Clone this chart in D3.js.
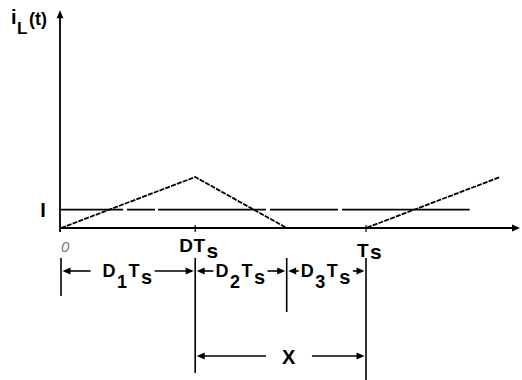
<!DOCTYPE html>
<html>
<head>
<meta charset="utf-8">
<script src="https://cdn.jsdelivr.net/npm/d3@7/dist/d3.min.js"></script>
<style>
  html, body { margin: 0; padding: 0; background: #fff; }
  svg { display: block; }
  text { font-family: "Liberation Sans", Arial, sans-serif; font-weight: bold; fill: #000; }
</style>
</head>
<body>
<svg id="chart" width="522" height="380"></svg>
<script>
// Inductor current waveform, time in units of Ts, current normalised to peak
const waveT = [0, 0.44, 0.74, 1.0, 1.44];
const waveI = [0, 1, 0, 0, 1];
const avgCurrent = 0.36;          // dc level I
const tickT = [0.44, 1.0];        // DTs and Ts on the time axis
const tickMain = ["DT", "T"];
const tickSub = ["s", "s"];
// sub-interval boundaries D1Ts, D2Ts, D3Ts
const intervalStart = [0, 0.44, 0.74];
const intervalEnd = [0.44, 0.74, 1.0];
const intervalSub = ["1", "2", "3"];
// span X from DTs to Ts
const spanX = [0.44, 1.0];
const axisEndT = 1.505, dcEndT = 1.34, axisTopI = 4.27;

const svg = d3.select("#chart");
const x = d3.scaleLinear().domain([0, 1]).range([61, 366]);
const y = d3.scaleLinear().domain([0, 1]).range([228, 177]);

function arrowHead(g, tipX, tipY, dir) {
  // dir: 'l','r','u'
  const L = 8, W = 3.4;
  let pts;
  if (dir === "r") pts = [[tipX, tipY], [tipX - L, tipY - W], [tipX - L, tipY + W]];
  else if (dir === "l") pts = [[tipX, tipY], [tipX + L, tipY - W], [tipX + L, tipY + W]];
  else pts = [[tipX, tipY], [tipX - W, tipY + L], [tipX + W, tipY + L]];
  g.append("path").attr("d", "M" + pts.join("L") + "Z").attr("fill", "#000");
}

const axes = svg.append("g");
// time axis
axes.append("line").attr("x1", x(0) - 1).attr("x2", x(axisEndT) - 4)
  .attr("y1", y(0)).attr("y2", y(0)).attr("stroke", "#000").attr("stroke-width", 1.8);
arrowHead(axes, x(axisEndT), y(0), "r");
// current axis
axes.append("line").attr("x1", x(0) - 1).attr("x2", x(0) - 1)
  .attr("y1", y(0) + 4).attr("y2", y(axisTopI) + 4).attr("stroke", "#000").attr("stroke-width", 1.8);
arrowHead(axes, x(0) - 1, y(axisTopI), "u");

// ticks on time axis
tickT.forEach(t => {
  axes.append("line").attr("x1", x(t)).attr("x2", x(t))
    .attr("y1", y(0) - 3).attr("y2", y(0) + 4).attr("stroke", "#000").attr("stroke-width", 1.2);
});

// dc level I
svg.append("line").attr("x1", x(0)).attr("x2", x(dcEndT))
  .attr("y1", y(avgCurrent)).attr("y2", y(avgCurrent))
  .attr("stroke", "#000").attr("stroke-width", 1.6).attr("stroke-dasharray", "62,4,28,3,108,4,68,4,140");

// inductor current waveform
const line = d3.line().x((d, i) => x(waveT[i])).y((d, i) => y(waveI[i]));
svg.append("path").attr("d", line(waveT)).attr("fill", "none")
  .attr("stroke", "#000").attr("stroke-width", 1.8).attr("stroke-dasharray", "5,1.2");

// axis labels
svg.append("text").attr("x", 11).attr("y", 24).style("font-size", "20px").text("i");
svg.append("text").attr("x", 17).attr("y", 34).style("font-size", "17px").text("L");
svg.append("text").attr("x", 29).attr("y", 25).style("font-size", "18px").text("(t)");
svg.append("text").attr("x", 43).attr("y", 217).attr("text-anchor", "middle")
  .style("font-size", "20px").text("I");
svg.append("text").attr("x", 61).attr("y", 252)
  .style("font-size", "15px").style("font-style", "italic").style("font-weight", "normal")
  .style("fill", "#777").text("0");

// tick labels DTs and Ts, main letters sit on the tick
const tickBase = [252, 257], tickSubDy = [6, 2], tickLead = [16, 9];
tickT.forEach((t, i) => {
  const tx = svg.append("text").attr("x", x(t) - tickLead[i]).attr("y", tickBase[i])
    .style("font-size", "19px").style("letter-spacing", "0.5px");
  tx.append("tspan").text(tickMain[i]);
  tx.append("tspan").attr("dx", 1).attr("dy", tickSubDy[i]).style("font-size", "21px").text(tickSub[i]);
});

// interval dimension row
const rowY = 271, extTop = 258;
const dims = svg.append("g");
[0, 0.44, 0.74, 1.0].forEach((t, i) => {
  const bottom = [296, 373, 312, 380][i];
  dims.append("line").attr("x1", x(t)).attr("x2", x(t))
    .attr("y1", extTop).attr("y2", bottom).attr("stroke", "#000").attr("stroke-width", 1.6);
});

function dimension(a, b, yy, build, gapL, gapR, shift) {
  const cx = (x(a) + x(b)) / 2 + shift;
  const tx = dims.append("text").attr("x", cx).attr("y", yy + 6).attr("text-anchor", "middle");
  build(tx);
  const bb = tx.node().getBBox();
  const xa = x(a) + 1.5, xb = x(b) - 1.5;
  dims.append("line").attr("x1", xa + 4).attr("x2", bb.x - gapL)
    .attr("y1", yy).attr("y2", yy).attr("stroke", "#000").attr("stroke-width", 1.6);
  dims.append("line").attr("x1", bb.x + bb.width + gapR).attr("x2", xb - 4)
    .attr("y1", yy).attr("y2", yy).attr("stroke", "#000").attr("stroke-width", 1.6);
  arrowHead(dims, xa, yy, "l");
  arrowHead(dims, xb, yy, "r");
}

intervalStart.forEach((a, i) => {
  dimension(a, intervalEnd[i], rowY, tx => {
    tx.style("font-size", "18px").style("letter-spacing", "1.5px");
    tx.append("tspan").text("D");
    tx.append("tspan").attr("dy", 11).text(intervalSub[i]);
    tx.append("tspan").attr("dy", -11).text("T");
    tx.append("tspan").attr("dy", 7).style("font-size", "20px").text("s");
  }, i === 0 ? 12 : 2, 1, 0);
});

dimension(spanX[0], spanX[1], 356, tx => {
  tx.attr("y", 364).style("font-size", "20px").text("X");
}, 16, 16, 8);
</script>
</body>
</html>
